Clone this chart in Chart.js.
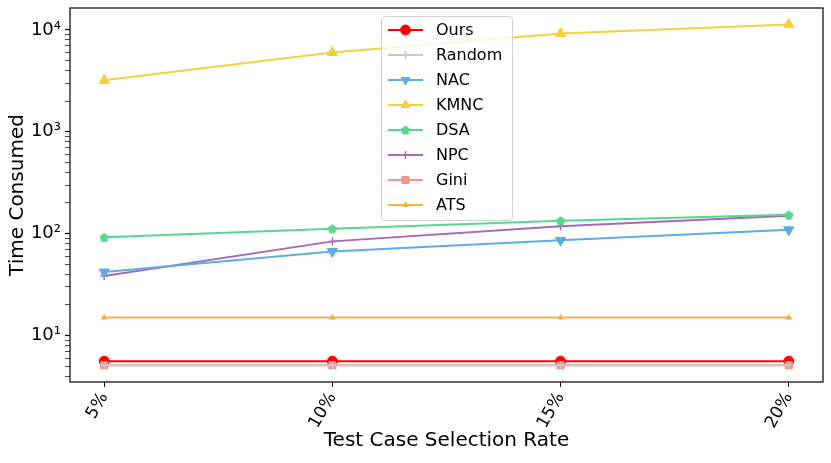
<!DOCTYPE html>
<html>
<head>
<meta charset="utf-8">
<script src="https://cdn.jsdelivr.net/npm/chart.js@4.4.0/dist/chart.umd.min.js"></script>
<style>
  html, body { margin: 0; padding: 0; background: #fff; }
  #wrap { width: 831px; height: 463px; }
</style>
</head>
<body>
<div id="wrap"><canvas id="c"></canvas></div>
<script>
// data
const rates = ["5%", "10%", "15%", "20%"];
const ours   = [5.6, 5.6, 5.6, 5.6];
const random = [5.1, 5.1, 5.1, 5.1];
const nac    = [42, 67, 86, 109];
const kmnc   = [3200, 6000, 9200, 11300];
const dsa    = [92, 112, 134, 153];
const npc    = [38.5, 84, 118, 150];
const gini   = [5.1, 5.1, 5.1, 5.1];
const ats    = [15, 15, 15, 15];
const yMajor = [10, 100, 1000, 10000];
const supers = { 1: "¹", 2: "²", 3: "³", 4: "⁴" };

// pentagon marker for DSA
function pentagon(color, r) {
    const cv = document.createElement("canvas");
    const s = r * 2 + 2;
    cv.width = s; cv.height = s;
    const g = cv.getContext("2d");
    g.fillStyle = color;
    g.beginPath();
    for (let i = 0; i < 5; i++) {
        const a = -Math.PI / 2 + i * 2 * Math.PI / 5;
        const px = s / 2 + r * Math.cos(a), py = s / 2 + r * Math.sin(a) + 0.5;
        i ? g.lineTo(px, py) : g.moveTo(px, py);
    }
    g.closePath();
    g.fill();
    return cv;
}

function pts(arr) { return arr.map((v, i) => ({ x: i, y: v })); }

function series(label, arr, color, style, radius, rot) {
    return {
        label: label,
        data: pts(arr),
        borderColor: color,
        backgroundColor: color,
        borderWidth: 2,
        pointStyle: style,
        pointRadius: radius,
        pointRotation: rot || 0,
        pointBorderWidth: style === "cross" || style === "line" ? 1.5 : 1,
        pointBorderColor: color,
        pointBackgroundColor: color
    };
}

const datasets = [
    series("Random", random, "#c8c8c8", "cross", 4),
    series("Gini", gini, "#f1948a", "rect", 5),
    series("Ours", ours, "#ff0000", "circle", 5),
    series("NAC", nac, "#5dade2", "triangle", 6, 180),
    series("KMNC", kmnc, "#f4d03f", "triangle", 6),
    series("DSA", dsa, "#58d68d", pentagon("#58d68d", 5), 5),
    series("NPC", npc, "#a569bd", "cross", 4),
    series("ATS", ats, "#f5b041", "triangle", 3)
];
const legendOrder = ["Ours", "Random", "NAC", "KMNC", "DSA", "NPC", "Gini", "ATS"];

// frame around the plot area + legend box inside it
const framePlugin = {
    id: "frame",
    afterDraw(chart) {
        const ctx = chart.ctx, a = chart.chartArea;
        ctx.save();
        ctx.strokeStyle = "#000";
        ctx.lineWidth = 1.2;
        ctx.strokeRect(a.left, a.top, a.right - a.left, a.bottom - a.top);

        // legend
        const bx = 381, by = 16, bw = 131, bh = 204;
        ctx.fillStyle = "rgba(255,255,255,0.8)";
        ctx.strokeStyle = "#d0d0d0";
        ctx.lineWidth = 1;
        ctx.beginPath();
        ctx.roundRect(bx + 0.5, by + 0.5, bw, bh, 3);
        ctx.fill();
        ctx.stroke();
        ctx.font = "16px 'DejaVu Sans'";
        ctx.textBaseline = "middle";
        legendOrder.forEach((name, i) => {
            const ds = chart.data.datasets.find(d => d.label === name);
            const y = by + 14 + i * 25;
            ctx.strokeStyle = ds.borderColor;
            ctx.lineWidth = 2;
            ctx.beginPath();
            ctx.moveTo(388, y);
            ctx.lineTo(423, y);
            ctx.stroke();
            ctx.fillStyle = ds.pointBackgroundColor;
            ctx.strokeStyle = ds.pointBorderColor;
            ctx.lineWidth = ds.pointBorderWidth;
            Chart.helpers.drawPoint(ctx, {
                pointStyle: ds.pointStyle,
                radius: Math.min(ds.pointRadius, 5),
                rotation: ds.pointRotation,
                borderWidth: ds.pointBorderWidth
            }, 405.5, y);
            ctx.fillStyle = "#000";
            ctx.fillText(name, 436, y + 1);
        });
        ctx.restore();
    }
};

new Chart(document.getElementById("c"), {
    type: "line",
    data: { datasets: datasets },
    plugins: [framePlugin],
    options: {
        responsive: true,
        maintainAspectRatio: false,
        animation: false,
        layout: { padding: { top: 8, right: 8, left: 0, bottom: 0 } },
        plugins: { legend: { display: false }, tooltip: { enabled: false } },
        elements: { line: { tension: 0 } },
        scales: {
            x: {
                type: "linear",
                min: -0.15,
                max: 3.15,
                afterBuildTicks(scale) {
                    scale.ticks = rates.map((r, i) => ({ value: i }));
                },
                afterFit(scale) {
                    scale.height = 81;
                    scale.paddingLeft = 0;
                    scale.paddingRight = 0;
                },
                grid: { display: true, drawOnChartArea: false, tickLength: 5, color: "#000" },
                border: { display: false },
                ticks: {
                    color: "#000",
                    font: { family: "DejaVu Sans", size: 17 },
                    minRotation: 60,
                    maxRotation: 60,
                    padding: 2,
                    callback: (v) => rates[v]
                },
                title: {
                    display: true,
                    text: "Test Case Selection Rate",
                    color: "#000",
                    font: { family: "DejaVu Sans", size: 20 },
                    padding: { top: 0, bottom: 10 }
                }
            },
            y: {
                type: "logarithmic",
                min: 3.5,
                max: 16400,
                afterBuildTicks(scale) {
                    const t = [];
                    for (let e = 0; e <= 4; e++) {
                        for (let m = 1; m <= 9; m++) {
                            const v = m * Math.pow(10, e);
                            if (v >= 3.5 && v <= 16400) t.push({ value: v, major: m === 1 });
                        }
                    }
                    scale.ticks = t;
                },
                afterFit(scale) {
                    scale.width = 70;
                    scale.paddingTop = 0;
                    scale.paddingBottom = 0;
                },
                grid: {
                    display: true,
                    drawOnChartArea: false,
                    tickLength: 5,
                    color: "#000",
                    tickWidth: (ctx) => (ctx.tick && ctx.tick.major ? 1.2 : 0.7)
                },
                border: { display: false },
                ticks: {
                    color: "#000",
                    font: { family: "DejaVu Sans", size: 18 },
                    padding: 4,
                    autoSkip: false,
                    callback: (v) => {
                        const e = Math.round(Math.log10(v));
                        return yMajor.includes(v) ? "10" + supers[e] : "";
                    }
                },
                title: {
                    display: true,
                    text: "Time Consumed",
                    color: "#000",
                    font: { family: "DejaVu Sans", size: 20 },
                    padding: { top: 6, bottom: 0 }
                }
            }
        }
    }
});
</script>
</body>
</html>
